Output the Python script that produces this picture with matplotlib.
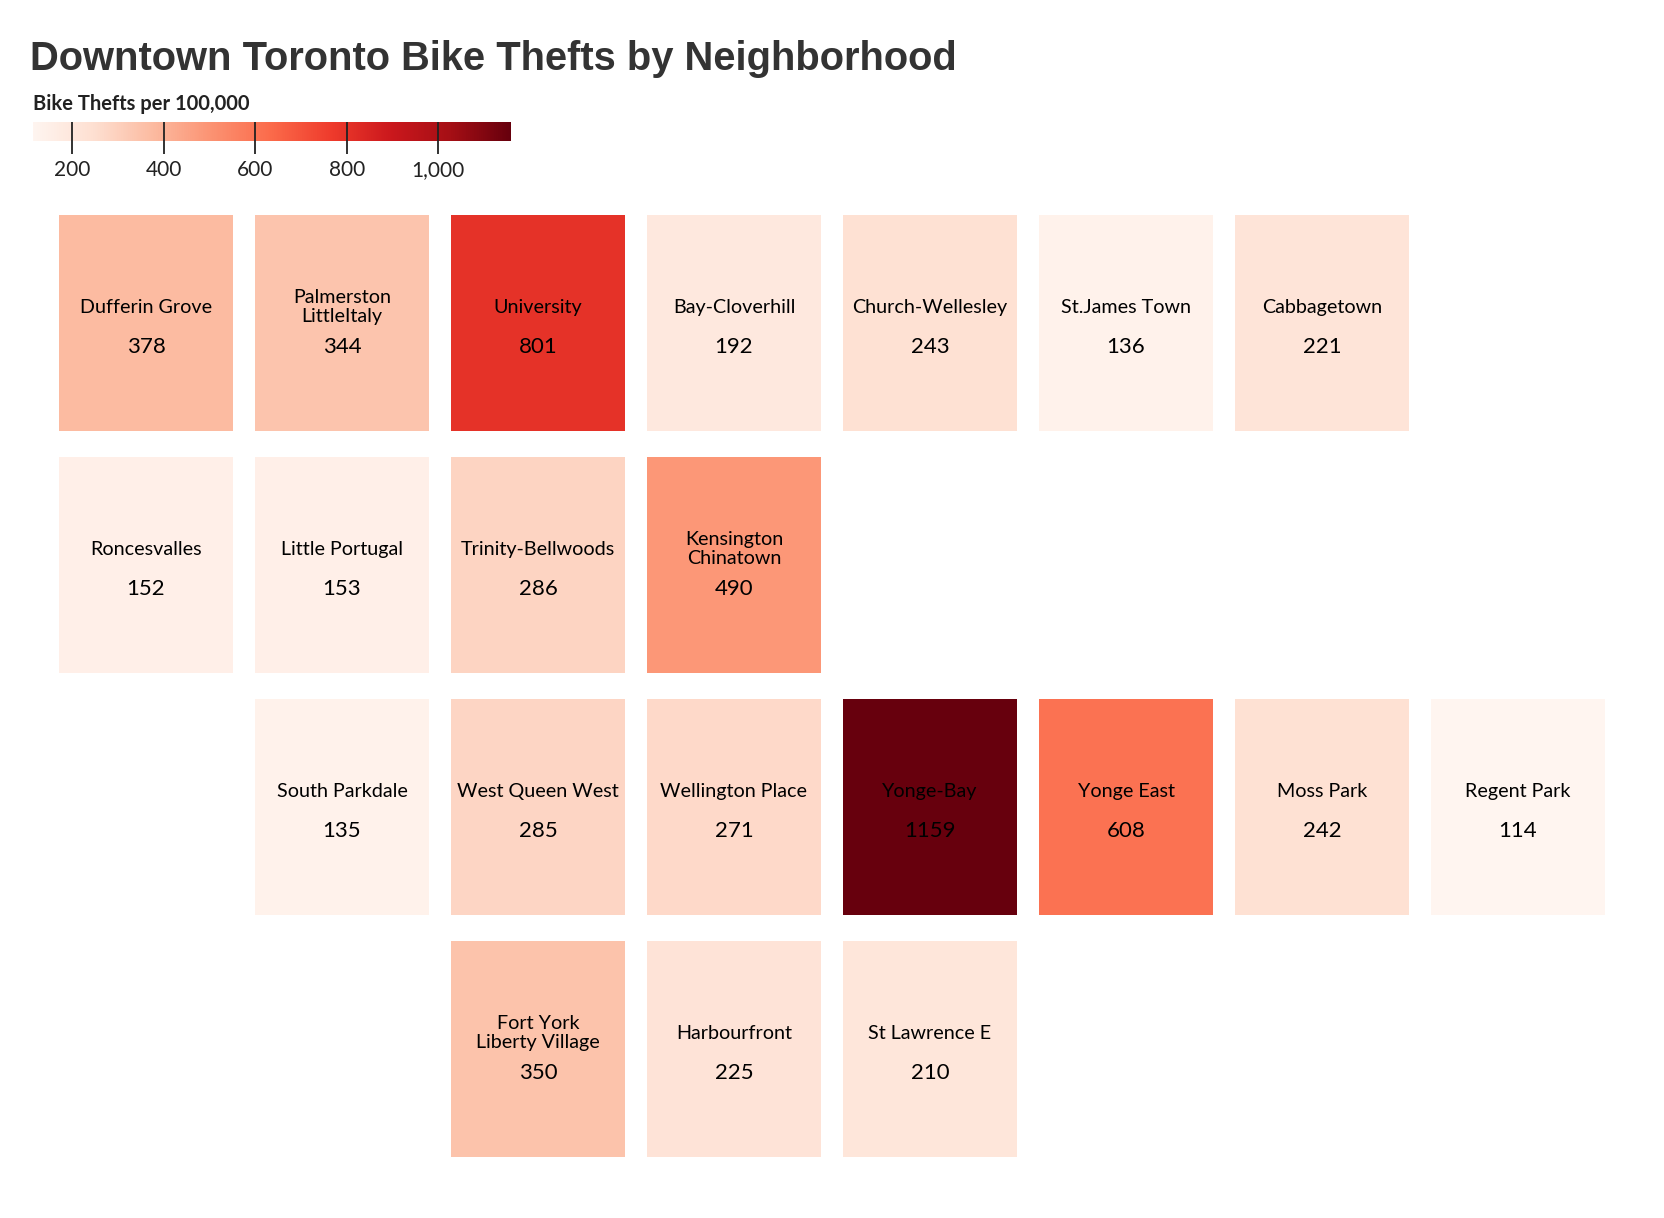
import matplotlib
matplotlib.use("Agg")
import matplotlib.pyplot as plt
import matplotlib.colors as mcolors
from matplotlib.patches import Rectangle
from matplotlib.ticker import FuncFormatter
import numpy as np

# ---- data ----
names = ["Dufferin Grove", "Palmerston\nLittleItaly", "University", "Bay-Cloverhill",
         "Church-Wellesley", "St.James Town", "Cabbagetown",
         "Roncesvalles", "Little Portugal", "Trinity-Bellwoods", "Kensington\nChinatown",
         "South Parkdale", "West Queen West", "Wellington Place", "Yonge-Bay",
         "Yonge East", "Moss Park", "Regent Park",
         "Fort York\nLiberty Village", "Harbourfront", "St Lawrence E"]
thefts = [378, 344, 801, 192, 243, 136, 221,
          152, 153, 286, 490,
          135, 285, 271, 1159, 608, 242, 114,
          350, 225, 210]
grid_col = [0, 1, 2, 3, 4, 5, 6,
            0, 1, 2, 3,
            1, 2, 3, 4, 5, 6, 7,
            2, 3, 4]
grid_row = [0, 0, 0, 0, 0, 0, 0,
            1, 1, 1, 1,
            2, 2, 2, 2, 2, 2, 2,
            3, 3, 3]
cbar_ticks = [200, 400, 600, 800, 1000]

title = "Downtown Toronto Bike Thefts by Neighborhood"
cbar_title = "Bike Thefts per 100,000"

# ---- figure ----
W, H = 1664, 1218
fig = plt.figure(figsize=(W / 100, H / 100), dpi=100)
fig.patch.set_facecolor("white")

cmap = plt.get_cmap("Reds")
norm = mcolors.Normalize(vmin=min(thefts), vmax=max(thefts))

body_font = ["Lato", "DejaVu Sans"]

# main tile axes (pixel layout -> figure fraction)
ax_l, ax_r, ax_t, ax_b = 48, 1616, 202, 1170
ax = fig.add_axes([ax_l / W, 1 - ax_b / H, (ax_r - ax_l) / W, (ax_b - ax_t) / H])
ax.set_xlim(0, 8)
ax.set_ylim(4, 0)
ax.axis("off")

gx = 11 / 196
gy = 13 / 242
for n, v, c, r in zip(names, thefts, grid_col, grid_row):
    ax.add_patch(Rectangle((c + gx, r + gy), 1 - 2 * gx, 1 - 2 * gy,
                           facecolor=cmap(norm(v)), edgecolor="none"))
    ax.text(c + 0.5, r + 0.435, n, ha="center", va="center", fontsize=14.2,
            family=body_font, color="black", linespacing=1.17)
    ax.text(c + 0.5, r + 0.600, f"{v}", ha="center", va="center", fontsize=16,
            family=body_font, color="black")

# title
fig.text(30 / W, 1 - 70 / H, title, ha="left", va="baseline", fontsize=28.7,
         fontweight="bold", family=["Liberation Sans", "DejaVu Sans"], color="#333333")

# colorbar
cb_l, cb_r, cb_t, cb_b = 33, 511, 122, 141
cax = fig.add_axes([cb_l / W, 1 - cb_b / H, (cb_r - cb_l) / W, (cb_b - cb_t) / H])
grad = np.linspace(norm.vmin, norm.vmax, 512).reshape(1, -1)
cax.imshow(grad, aspect="auto", cmap=cmap, norm=norm,
           extent=(norm.vmin, norm.vmax, 0, 1))
cax.set_xlim(norm.vmin, norm.vmax)
cax.set_ylim(0, 1)
cax.set_yticks([])
for s in cax.spines.values():
    s.set_visible(False)
cax.set_xticks(cbar_ticks)
cax.xaxis.set_major_formatter(FuncFormatter(lambda x, p: f"{int(x):,}"))
cax.tick_params(axis="x", direction="out", length=9, width=1.3, color="#222222",
                pad=4.5, labelsize=15, labelcolor="#222222")
for lab in cax.get_xticklabels():
    lab.set_family(body_font)
for t in cbar_ticks:
    cax.axvline(t, color="#222222", lw=1.3)

fig.text(cb_l / W, 1 - 110 / H, cbar_title, ha="left", va="baseline", fontsize=14.5,
         fontweight="bold", family=body_font, color="#222222")

fig.savefig("out.png", dpi=100, facecolor="white")
